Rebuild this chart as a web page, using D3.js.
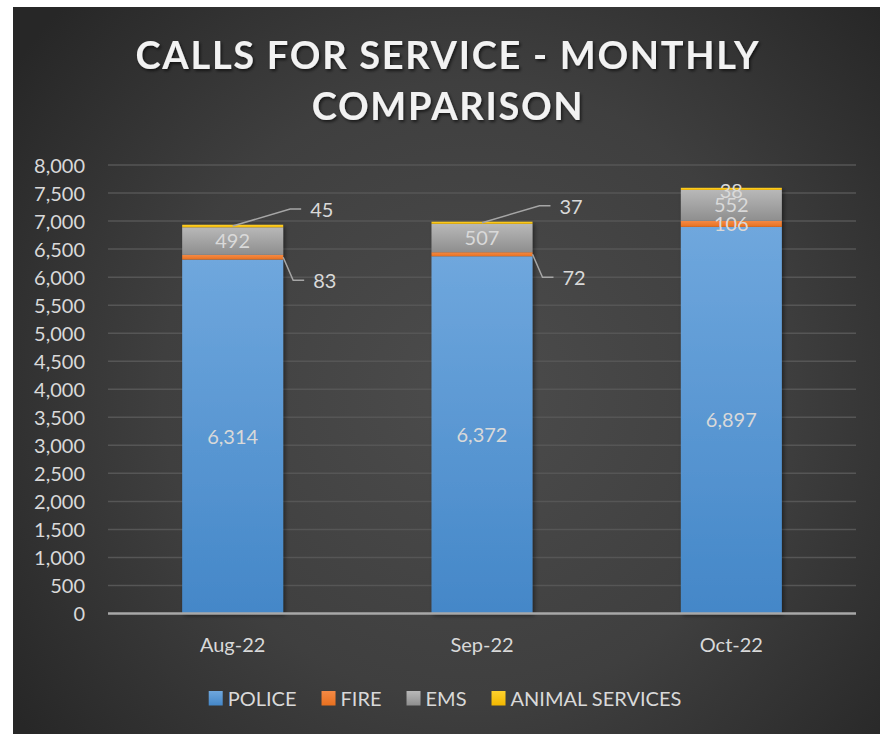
<!DOCTYPE html>
<html><head><meta charset="utf-8">
<script src="https://cdn.jsdelivr.net/npm/d3@7"></script>
<style>html,body{margin:0;padding:0;background:#fff;}svg{display:block;}</style>
</head><body>
<svg id="c" width="880" height="734"></svg>
<script>
const months = ["Aug-22", "Sep-22", "Oct-22"];
const seriesNames = ["POLICE", "FIRE", "EMS", "ANIMAL SERVICES"];
const police = [6314, 6372, 6897];
const fire = [83, 72, 106];
const ems = [492, 507, 552];
const animal = [45, 37, 38];
const yTicks = [0, 500, 1000, 1500, 2000, 2500, 3000, 3500, 4000, 4500, 5000, 5500, 6000, 6500, 7000, 7500, 8000];
const leaderMonths = ["Aug-22", "Sep-22"];
const titleLines = ["CALLS FOR SERVICE - MONTHLY", "COMPARISON"];

const FONT = "Lato, 'Open Sans', sans-serif";
const svg = d3.select("#c");
const defs = svg.append("defs");

const bg = defs.append("radialGradient").attr("id","bg").attr("gradientUnits","userSpaceOnUse")
  .attr("cx",470).attr("cy",390).attr("r",560);
bg.append("stop").attr("offset","0").attr("stop-color","#4c4c4c");
bg.append("stop").attr("offset","0.55").attr("stop-color","#3f3f3f");
bg.append("stop").attr("offset","1").attr("stop-color","#272727");

function lin(id, c1, c2){
  const g = defs.append("linearGradient").attr("id",id).attr("x1",0).attr("y1",0).attr("x2",0).attr("y2",1);
  g.append("stop").attr("offset","0").attr("stop-color",c1);
  g.append("stop").attr("offset","1").attr("stop-color",c2);
}
lin("gPolice","#6fa7dd","#4487c8");
lin("gFire","#f58a45","#e8701f");
lin("gEms","#b8b8b8","#8e8e8e");
lin("gAnimal","#ffd22e","#f2b700");
const fills = ["url(#gPolice)","url(#gFire)","url(#gEms)","url(#gAnimal)"];
const swatch = [["#6fa7dd","#4487c8"],["#f58a45","#e8701f"],["#b8b8b8","#8e8e8e"],["#ffd22e","#f2b700"]];

const sh = defs.append("filter").attr("id","sh").attr("x","-20%").attr("y","-20%").attr("width","140%").attr("height","140%");
sh.append("feDropShadow").attr("dx",2).attr("dy",2).attr("stdDeviation",2).attr("flood-color","#000").attr("flood-opacity",0.45);
const tsh = defs.append("filter").attr("id","tsh").attr("x","-10%").attr("y","-30%").attr("width","120%").attr("height","160%");
tsh.append("feDropShadow").attr("dx",1.5).attr("dy",2).attr("stdDeviation",1.5).attr("flood-color","#000").attr("flood-opacity",0.6);

svg.append("rect").attr("x",13).attr("y",7).attr("width",867).attr("height",727).attr("fill","url(#bg)");

const title = svg.append("g").attr("filter","url(#tsh)");
const titleBase = [69, 120];
titleLines.forEach((t,i)=>{
  title.append("text").attr("x",448).attr("y",titleBase[i]).attr("text-anchor","middle")
    .attr("font-family",FONT).attr("font-weight",700).attr("font-size",38)
    .attr("letter-spacing", "1.7px")
    .attr("fill","#f2f2f2").text(t);
});

const x = d3.scaleBand().domain(months).range([108, 856]).paddingInner(0.595).paddingOuter(0.2975);
const y = d3.scaleLinear().domain([0, 8000]).range([613.5, 165]);

svg.append("g").selectAll("line").data(yTicks.filter(d=>d>0)).join("line")
  .attr("x1",108).attr("x2",856).attr("y1",d=>y(d)).attr("y2",d=>y(d))
  .attr("stroke","#565656").attr("stroke-width",1.5);

const yAxis = d3.axisLeft(y).tickValues(yTicks).tickFormat(d3.format(",")).tickSize(0).tickPadding(0);
const ya = svg.append("g").attr("transform","translate(85,0)").call(yAxis);
ya.select(".domain").remove();
ya.selectAll("text").attr("font-family",FONT).attr("font-size",20).attr("fill","#d9d9d9").attr("dy","0.35em");

const rows = months.map((m,i)=>({month:m, POLICE:police[i], FIRE:fire[i], EMS:ems[i], "ANIMAL SERVICES":animal[i]}));
const stack = d3.stack().keys(seriesNames)(rows);

const bars = svg.append("g").attr("filter","url(#sh)");
stack.forEach((s,si)=>{
  bars.append("g").selectAll("rect").data(s).join("rect")
    .attr("x",d=>x(d.data.month)).attr("width",x.bandwidth())
    .attr("y",d=>y(d[1])).attr("height",d=>y(d[0])-y(d[1]))
    .attr("fill",fills[si]);
});

svg.append("line").attr("x1",108).attr("x2",856).attr("y1",y(0)).attr("y2",y(0))
  .attr("stroke","#a8a8a8").attr("stroke-width",2.5);

const xAxis = d3.axisBottom(x).tickSize(0).tickPadding(0);
const xa = svg.append("g").attr("transform","translate(0,644.5)").call(xAxis);
xa.select(".domain").remove();
xa.selectAll("text").attr("font-family",FONT).attr("font-size",20).attr("fill","#d9d9d9").attr("dy","0.35em");

const fmt = d3.format(",");
const lbl = svg.append("g").attr("font-family",FONT).attr("font-size",20).attr("fill","#d9d9d9");
stack.forEach((s,si)=>{
  s.forEach(d=>{
    const m = d.data.month;
    const cx = x(m) + x.bandwidth()/2;
    const right = x(m) + x.bandwidth();
    const mid = y((d[0]+d[1])/2);
    const val = d[1]-d[0];
    const useLeader = leaderMonths.includes(m) && (si===1 || si===3);
    if(!useLeader){
      const nudge = si===3 ? 2.5 : 0;
      lbl.append("text").attr("x",cx).attr("y",mid+nudge).attr("dy","0.35em").attr("text-anchor","middle").text(fmt(val));
    } else if(si===3){
      const ly = mid - 17;
      lbl.append("path").attr("d",`M${cx},${mid} L${right+7},${ly} L${right+18},${ly}`)
        .attr("fill","none").attr("stroke","#a6a6a6").attr("stroke-width",1.5);
      lbl.append("text").attr("x",right+27).attr("y",ly+1).attr("dy","0.35em").text(fmt(val));
    } else {
      const ly = mid + 23;
      lbl.append("path").attr("d",`M${right},${mid} L${right+10},${ly} L${right+21},${ly}`)
        .attr("fill","none").attr("stroke","#a6a6a6").attr("stroke-width",1.5);
      lbl.append("text").attr("x",right+30).attr("y",ly+1).attr("dy","0.35em").text(fmt(val));
    }
  });
});

const leg = svg.append("g");
const items = [];
seriesNames.forEach((n,i)=>{
  const lg = defs.append("linearGradient").attr("id","lg"+i).attr("x1",0).attr("y1",0).attr("x2",0).attr("y2",1);
  lg.append("stop").attr("offset",0).attr("stop-color",swatch[i][0]);
  lg.append("stop").attr("offset",1).attr("stop-color",swatch[i][1]);
  const g = leg.append("g");
  g.append("rect").attr("x",0).attr("y",-14.5).attr("width",14).attr("height",14.5)
    .attr("fill",`url(#lg${i})`);
  const t = g.append("text").attr("x",19).attr("y",0).attr("font-family",FONT).attr("font-size",20).attr("fill","#d9d9d9").text(n);
  items.push({g, w: 19 + t.node().getComputedTextLength()});
});
const gap = 25;
const total = d3.sum(items, d=>d.w) + gap*(items.length-1);
let cur = 445 - total/2;
items.forEach(it=>{ it.g.attr("transform",`translate(${cur},705.5)`); cur += it.w + gap; });
</script>
</body></html>
